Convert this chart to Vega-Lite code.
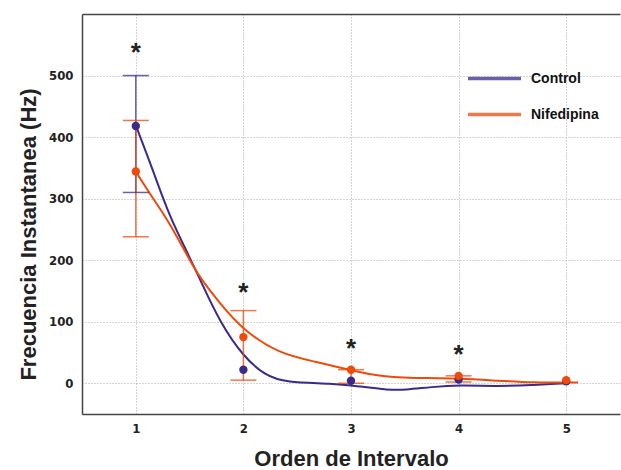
{
  "$schema": "https://vega.github.io/schema/vega-lite/v6.json",
  "width": 538,
  "height": 400,
  "autosize": {"type": "none"},
  "padding": {"left": 82, "top": 14, "right": 1, "bottom": 56},
  "background": "white",
  "config": {
    "view": {"stroke": null},
    "axis": {
      "domainColor": "#444444",
      "domainWidth": 1.5,
      "gridColor": "#a8a8a8",
      "gridDash": [1, 2],
      "gridWidth": 1,
      "ticks": false,
      "tickSize": 0,
      "labelFont": "DejaVu Sans Condensed",
      "labelFontWeight": "bold",
      "labelFontSize": 13,
      "labelColor": "#222222",
      "titleFont": "Liberation Sans",
      "titleFontWeight": "bold",
      "titleFontSize": 22,
      "titleColor": "#222222"
    },
    "legend": {
      "orient": "none",
      "legendX": 384,
      "legendY": 36,
      "symbolType": "stroke",
      "symbolSize": 2809,
      "symbolStrokeWidth": 3.5,
      "labelFont": "Liberation Sans",
      "labelFontWeight": "bold",
      "labelFontSize": 14,
      "labelColor": "#111111",
      "labelOffset": 8,
      "rowPadding": -23,
      "title": null
    }
  },
  "datasets": {
    "pts": [
      {"group": "Control", "x": 1, "y": 418, "lo": 310, "hi": 500},
      {"group": "Control", "x": 2, "y": 22, "lo": null, "hi": null},
      {"group": "Control", "x": 3, "y": 4, "lo": null, "hi": null},
      {"group": "Control", "x": 4, "y": 6, "lo": null, "hi": null},
      {"group": "Control", "x": 5, "y": 3, "lo": null, "hi": null},
      {"group": "Nifedipina", "x": 1, "y": 344, "lo": 238, "hi": 427},
      {"group": "Nifedipina", "x": 2, "y": 75, "lo": 5, "hi": 118},
      {"group": "Nifedipina", "x": 3, "y": 22, "lo": 0, "hi": 22},
      {"group": "Nifedipina", "x": 4, "y": 12, "lo": 2, "hi": 12},
      {"group": "Nifedipina", "x": 5, "y": 5, "lo": null, "hi": null}
    ],
    "curve": [
      {"group": "Control", "x": 1, "y": 419},
      {"group": "Control", "x": 1.16, "y": 346},
      {"group": "Control", "x": 1.31, "y": 272},
      {"group": "Control", "x": 1.5, "y": 205},
      {"group": "Control", "x": 1.62, "y": 160},
      {"group": "Control", "x": 1.78, "y": 100},
      {"group": "Control", "x": 2, "y": 43},
      {"group": "Control", "x": 2.2, "y": 13},
      {"group": "Control", "x": 2.39, "y": 1},
      {"group": "Control", "x": 2.83, "y": 0},
      {"group": "Control", "x": 3.07, "y": -5},
      {"group": "Control", "x": 3.35, "y": -11},
      {"group": "Control", "x": 3.5, "y": -11},
      {"group": "Control", "x": 3.75, "y": -6},
      {"group": "Control", "x": 4, "y": -3},
      {"group": "Control", "x": 4.37, "y": -5},
      {"group": "Control", "x": 4.68, "y": -3},
      {"group": "Control", "x": 5, "y": 0},
      {"group": "Nifedipina", "x": 1, "y": 344},
      {"group": "Nifedipina", "x": 1.16, "y": 300},
      {"group": "Nifedipina", "x": 1.31, "y": 262},
      {"group": "Nifedipina", "x": 1.5, "y": 200},
      {"group": "Nifedipina", "x": 1.59, "y": 173},
      {"group": "Nifedipina", "x": 1.78, "y": 130},
      {"group": "Nifedipina", "x": 2, "y": 86},
      {"group": "Nifedipina", "x": 2.33, "y": 48},
      {"group": "Nifedipina", "x": 2.67, "y": 35},
      {"group": "Nifedipina", "x": 3, "y": 21},
      {"group": "Nifedipina", "x": 3.29, "y": 10},
      {"group": "Nifedipina", "x": 3.75, "y": 8},
      {"group": "Nifedipina", "x": 4, "y": 8},
      {"group": "Nifedipina", "x": 4.37, "y": 4},
      {"group": "Nifedipina", "x": 4.68, "y": 1},
      {"group": "Nifedipina", "x": 5.11, "y": 1}
    ],
    "stars": [
      {"x": 1, "y": 547, "label": "*"},
      {"x": 2, "y": 157, "label": "*"},
      {"x": 3, "y": 65, "label": "*"},
      {"x": 4, "y": 55, "label": "*"}
    ]
  },
  "layer": [
    {
      "data": {"name": "curve"},
      "mark": {"type": "line", "interpolate": "basis", "strokeWidth": 2},
      "encoding": {
        "x": {
          "field": "x", "type": "quantitative",
          "scale": {"domain": [0.5, 5.5], "nice": false, "zero": false},
          "axis": {"orient": "bottom", "values": [1, 2, 3, 4, 5], "labelPadding": 8, "title": "Orden de Intervalo", "titleY": 51, "titleBaseline": "alphabetic", "titleAnchor": "middle"}
        },
        "y": {
          "field": "y", "type": "quantitative",
          "scale": {"domain": [-50, 600], "nice": false, "zero": false},
          "axis": {"values": [0, 100, 200, 300, 400, 500], "labelPadding": 9, "title": "Frecuencia Instantanea (Hz)", "titleX": -47, "titleY": 220, "titleAngle": -90, "titleBaseline": "alphabetic", "titleAlign": "center"}
        },
        "color": {
          "field": "group", "type": "nominal",
          "scale": {"domain": ["Control", "Nifedipina"], "range": ["#3a2a8a", "#ee4a0a"]},
          "legend": {}
        }
      }
    },
    {
      "data": {"name": "pts"},
      "transform": [{"filter": "datum.lo != null"}],
      "mark": {"type": "rule", "strokeWidth": 1.5, "opacity": 0.75},
      "encoding": {
        "x": {"field": "x", "type": "quantitative", "axis": null},
        "y": {"field": "lo", "type": "quantitative"},
        "y2": {"field": "hi"},
        "color": {"field": "group", "type": "nominal"}
      }
    },
    {
      "data": {"name": "pts"},
      "transform": [{"filter": "datum.lo != null"}],
      "mark": {"type": "tick", "orient": "horizontal", "size": 26, "thickness": 1.5, "opacity": 0.75},
      "encoding": {
        "x": {"field": "x", "type": "quantitative", "axis": null},
        "y": {"field": "lo", "type": "quantitative"},
        "color": {"field": "group", "type": "nominal"}
      }
    },
    {
      "data": {"name": "pts"},
      "transform": [{"filter": "datum.lo != null"}],
      "mark": {"type": "tick", "orient": "horizontal", "size": 26, "thickness": 1.5, "opacity": 0.75},
      "encoding": {
        "x": {"field": "x", "type": "quantitative", "axis": null},
        "y": {"field": "hi", "type": "quantitative"},
        "color": {"field": "group", "type": "nominal"}
      }
    },
    {
      "data": {"name": "pts"},
      "mark": {"type": "circle", "size": 70, "opacity": 1},
      "encoding": {
        "x": {"field": "x", "type": "quantitative", "axis": null},
        "y": {"field": "y", "type": "quantitative"},
        "color": {"field": "group", "type": "nominal"}
      }
    },
    {
      "data": {"name": "stars"},
      "mark": {"type": "text", "font": "Liberation Sans", "fontWeight": "bold", "fontSize": 26, "color": "#222222", "baseline": "alphabetic", "dy": 14},
      "encoding": {
        "x": {"field": "x", "type": "quantitative", "axis": {"orient": "top", "labels": false, "grid": false, "ticks": false, "title": null, "domain": true}},
        "y": {"field": "y", "type": "quantitative"},
        "text": {"field": "label"}
      }
    }
  ],
  "resolve": {"axis": {"x": "independent"}}
}
